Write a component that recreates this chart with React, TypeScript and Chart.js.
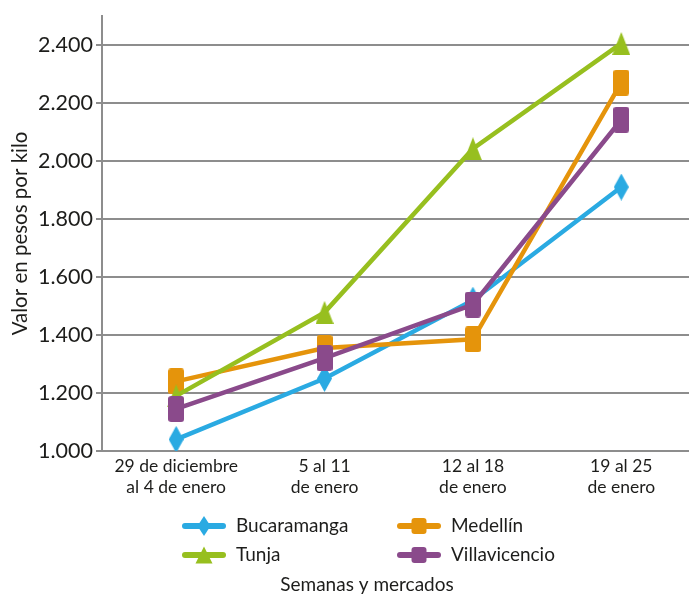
import React, { useEffect, useRef } from "react";
import { Chart, registerables } from "chart.js";

Chart.register(...registerables);

const categories: string[][] = [
  ["29 de diciembre", "al 4 de enero"],
  ["5 al 11", "de enero"],
  ["12 al 18", "de enero"],
  ["19 al 25", "de enero"],
];
const bucaramanga = [1040, 1250, 1520, 1910];
const medellin = [1240, 1355, 1385, 2270];
const tunja = [1190, 1478, 2042, 2405];
const villavicencio = [1145, 1320, 1505, 2142];
const seriesNames = ["Bucaramanga", "Medellín", "Tunja", "Villavicencio"];
const yMin = 1000;
const yMax = 2500;
const yStep = 200;
const yTickMax = 2400;
const yTitle = "Valor en pesos por kilo";
const xTitle = "Semanas y mercados";

const COLORS = ["#2aaae2", "#e5940b", "#97bf1f", "#8a4a8b"];
const SHAPES = ["diamond", "rect", "triangle", "rect"];
const FONT = "Lato, 'Open Sans', sans-serif";
const TEXT = "#1d1d1b";
const GRID = "#8d8d8d";

function drawShape(ctx: CanvasRenderingContext2D, shape: string, cx: number, cy: number, w: number, h: number) {
  ctx.beginPath();
  if (shape === "diamond") {
    ctx.moveTo(cx, cy - h / 2);
    ctx.lineTo(cx + w / 2, cy);
    ctx.lineTo(cx, cy + h / 2);
    ctx.lineTo(cx - w / 2, cy);
    ctx.closePath();
  } else if (shape === "triangle") {
    ctx.moveTo(cx, cy - h / 2);
    ctx.lineTo(cx + w / 2, cy + h / 2);
    ctx.lineTo(cx - w / 2, cy + h / 2);
    ctx.closePath();
  } else {
    const r = 3;
    const x = cx - w / 2;
    const y = cy - h / 2;
    ctx.moveTo(x + r, y);
    ctx.lineTo(x + w - r, y);
    ctx.quadraticCurveTo(x + w, y, x + w, y + r);
    ctx.lineTo(x + w, y + h - r);
    ctx.quadraticCurveTo(x + w, y + h, x + w - r, y + h);
    ctx.lineTo(x + r, y + h);
    ctx.quadraticCurveTo(x, y + h, x, y + h - r);
    ctx.lineTo(x, y + r);
    ctx.quadraticCurveTo(x, y, x + r, y);
    ctx.closePath();
  }
  ctx.fill();
}

function makeMarker(shape: string, color: string): HTMLCanvasElement {
  const c = document.createElement("canvas");
  const w = shape === "triangle" ? 18 : shape === "diamond" ? 15 : 16;
  const h = shape === "triangle" ? 23 : shape === "diamond" ? 27 : 26;
  c.width = w;
  c.height = h;
  const ctx = c.getContext("2d")!;
  ctx.fillStyle = color;
  drawShape(ctx, shape, w / 2, h / 2, w, h);
  return c;
}

const legendPlugin = {
  id: "gridLegend",
  afterDraw(chart: any) {
    const ctx: CanvasRenderingContext2D = chart.ctx;
    const area = chart.chartArea;
    const cols = [183, 398];
    const rows = [area.bottom + 75, area.bottom + 104];
    ctx.save();
    chart.data.datasets.forEach((ds: any, i: number) => {
      const col = i % 2;
      const row = Math.floor(i / 2);
      const x0 = cols[col];
      const y = rows[row];
      const len = 42;
      ctx.strokeStyle = COLORS[i];
      ctx.lineWidth = 6;
      ctx.lineCap = "round";
      ctx.beginPath();
      ctx.moveTo(x0 + 2, y);
      ctx.lineTo(x0 + len - 2, y);
      ctx.stroke();
      ctx.fillStyle = COLORS[i];
      const s = SHAPES[i];
      const mw = s === "diamond" ? 13 : s === "triangle" ? 17 : 15;
      const mh = s === "diamond" ? 20 : s === "triangle" ? 17 : 16;
      drawShape(ctx, s, x0 + len / 2, y, mw, mh);
      ctx.fillStyle = TEXT;
      ctx.font = `19px ${FONT}`;
      ctx.textBaseline = "middle";
      ctx.textAlign = "left";
      ctx.fillText(ds.label, x0 + len + 11, y);
    });
    ctx.font = `19px ${FONT}`;
    ctx.textAlign = "center";
    ctx.textBaseline = "middle";
    ctx.fillStyle = TEXT;
    ctx.fillText(xTitle, 367, area.bottom + 134);
    ctx.restore();
  },
};

export default function App() {
  const ref = useRef<HTMLCanvasElement>(null);
  useEffect(() => {
    if (!ref.current) return;
    const series = [bucaramanga, medellin, tunja, villavicencio];
    const chart = new Chart(ref.current, {
      type: "line",
      data: {
        labels: categories,
        datasets: series.map((d, i) => {
          const m = makeMarker(SHAPES[i], COLORS[i]);
          return {
            label: seriesNames[i],
            data: d,
            borderColor: COLORS[i],
            backgroundColor: COLORS[i],
            borderWidth: 4.5,
            pointStyle: m as any,
            pointRadius: 10,
            pointHoverRadius: 10,
            tension: 0,
            order: series.length - i,
          };
        }),
      },
      plugins: [legendPlugin],
      options: {
        responsive: false,
        animation: false,
        devicePixelRatio: 1,
        layout: { padding: { top: 15, right: 11, left: 0, bottom: 0 } },
        plugins: {
          legend: { display: false },
          tooltip: { enabled: false },
          title: { display: false },
        },
        scales: {
          x: {
            type: "category",
            offset: true,
            grid: { display: false, drawTicks: false },
            border: { display: true, color: GRID, width: 2 },
            ticks: {
              color: TEXT,
              font: { family: FONT, size: 17.5, lineHeight: 1.2 },
              padding: 5,
              maxRotation: 0,
              autoSkip: false,
            },
            afterFit: (s: any) => {
              s.height = 147;
            },
          },
          y: {
            type: "linear",
            min: yMin,
            max: yMax,
            ticks: {
              stepSize: yStep,
              color: TEXT,
              font: { family: FONT, size: 21.5 },
              padding: 3,
              callback: (v: any) => Number(v).toLocaleString("de-DE"),
            },
            afterBuildTicks: (s: any) => {
              s.ticks = s.ticks.filter((t: any) => t.value <= yTickMax);
            },
            grid: { color: GRID, lineWidth: 2, tickLength: 6 },
            border: { display: true, color: GRID, width: 2 },
            title: {
              display: true,
              text: yTitle,
              color: TEXT,
              font: { family: FONT, size: 20.5 },
              padding: { top: 8, bottom: 0 },
            },
            afterFit: (s: any) => {
              s.width = 102;
            },
          },
        },
      },
    });
    return () => chart.destroy();
  }, []);
  return (
    <div style={{ position: "absolute", left: 0, top: 0, width: 689, height: 598, overflow: "hidden", background: "#fff" }}>
      <canvas ref={ref} width={710} height={598} style={{ width: 710, height: 598, display: "block" }} />
    </div>
  );
}
